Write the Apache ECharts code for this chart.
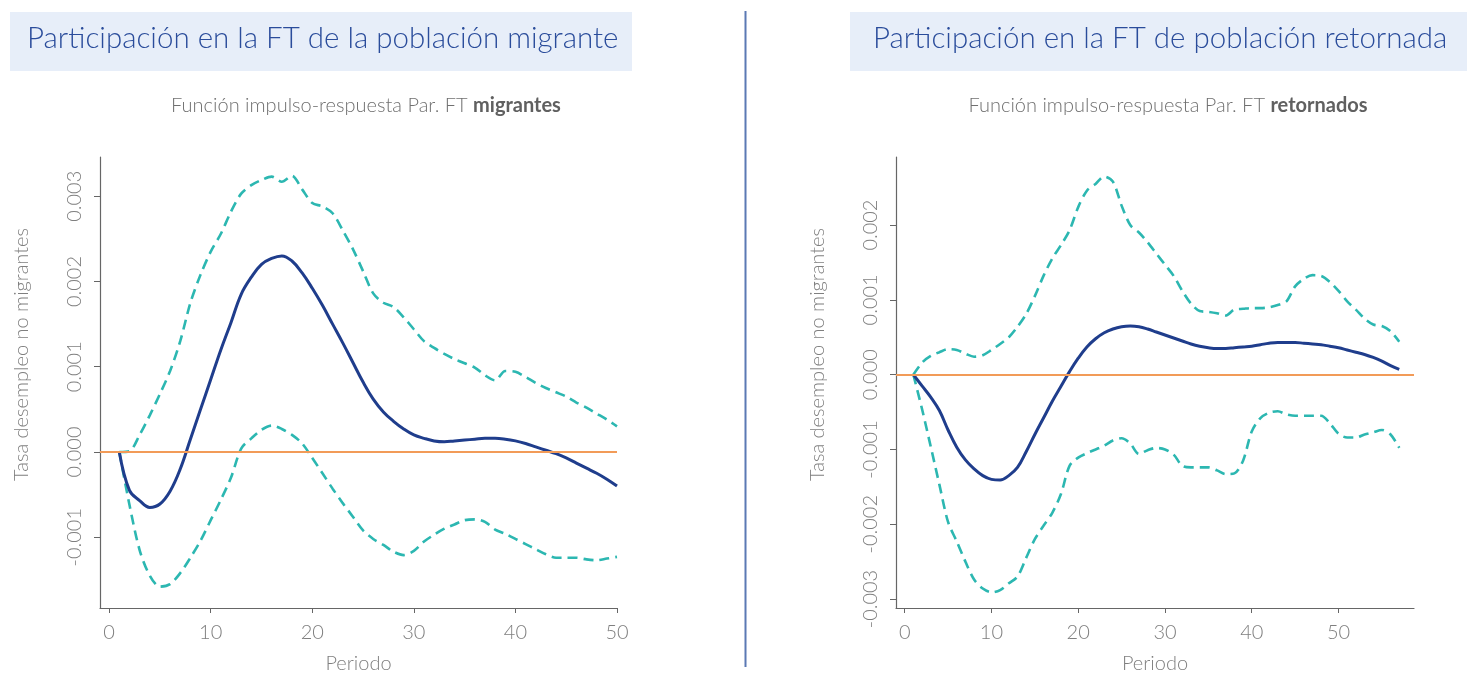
<!DOCTYPE html>
<html>
<head>
<meta charset="utf-8">
<style>
  html, body { margin: 0; padding: 0; background: #fff; }
  #chart { width: 1467px; height: 675px; }
</style>
<script src="https://cdn.jsdelivr.net/npm/echarts@6/dist/echarts.min.js"></script>
</head>
<body>
<div id="chart"></div>
<script>
// periodos (eje x)
const periodosMig = [1,2,3,4,5,6,7,8,9,10,11,12,13,14,15,16,17,18,19,20,21,22,23,24,25,26,27,28,29,30,31,32,33,34,35,36,37,38,39,40,41,42,43,44,45,46,47,48,49,50];
const periodosRet = [1,2,3,4,5,6,7,8,9,10,11,12,13,14,15,16,17,18,19,20,21,22,23,24,25,26,27,28,29,30,31,32,33,34,35,36,37,38,39,40,41,42,43,44,45,46,47,48,49,50,51,52,53,54,55,56,57];

// respuesta de migrantes
const migCentral = [0, -0.00045, -0.00057, -0.00065, -0.00061, -0.00046, -0.0002, 0.00015, 0.0005, 0.00085,
  0.0012, 0.00152, 0.00185, 0.00205, 0.0022, 0.00227, 0.0023, 0.00224, 0.0021, 0.00192,
  0.00172, 0.0015, 0.00128, 0.00105, 0.00082, 0.00062, 0.00047, 0.00036, 0.00027, 0.0002,
  0.00016, 0.00013, 0.00012, 0.00013, 0.00014, 0.00015, 0.00016, 0.00016, 0.00015, 0.00013,
  0.0001, 0.00006, 0.00002, -0.00002, -0.00007, -0.00013, -0.00019, -0.00025, -0.00032, -0.0004];
const migSuperior = [0, 0.00001, 0.0002, 0.00043, 0.00068, 0.00095, 0.0013, 0.00175, 0.00208, 0.00235,
  0.00256, 0.00282, 0.00303, 0.00313, 0.00319, 0.00323, 0.00317, 0.00324, 0.00308, 0.00292,
  0.00288, 0.0028, 0.0026, 0.00238, 0.00212, 0.00186, 0.00175, 0.0017, 0.00158, 0.00144,
  0.0013, 0.00122, 0.00115, 0.00109, 0.00104, 0.00099, 0.0009, 0.00084, 0.00095, 0.00094,
  0.00088, 0.00081, 0.00075, 0.0007, 0.00065, 0.00058, 0.00052, 0.00045, 0.00038, 0.0003];
const migInferior = [0, -0.00062, -0.00115, -0.00145, -0.00158, -0.00155, -0.00142, -0.00124, -0.00104, -0.0008,
  -0.00056, -0.0003, 0.00004, 0.00016, 0.00026, 0.00031, 0.00027, 0.0002, 0.0001, -0.00007,
  -0.00025, -0.00043, -0.0006, -0.00076, -0.00092, -0.00102, -0.00109, -0.00117, -0.00121, -0.00116,
  -0.00105, -0.00097, -0.0009, -0.00085, -0.0008, -0.00079, -0.00082, -0.00091, -0.00096, -0.00102,
  -0.00108, -0.00114, -0.0012, -0.00124, -0.00124, -0.00124, -0.00126, -0.00127, -0.00125, -0.00123];

// respuesta de retornados
const retCentral = [0, -0.00015, -0.0003, -0.00048, -0.00074, -0.00097, -0.00114, -0.00126, -0.00135, -0.0014,
  -0.00141, -0.00135, -0.00124, -0.00103, -0.0008, -0.00058, -0.00036, -0.00016, 0.00004, 0.00022,
  0.00037, 0.00048, 0.00056, 0.00061, 0.00064, 0.00065, 0.00064, 0.00061, 0.00057, 0.00053,
  0.00049, 0.00045, 0.00041, 0.00038, 0.00036, 0.00035, 0.00035, 0.00036, 0.00037, 0.00038,
  0.0004, 0.00042, 0.00043, 0.00043, 0.00043, 0.00042, 0.00041, 0.0004, 0.00038, 0.00036,
  0.00033, 0.0003, 0.00027, 0.00023, 0.00018, 0.00012, 0.00007];
const retSuperior = [0, 0.00016, 0.00025, 0.0003, 0.00034, 0.00033, 0.00028, 0.00024, 0.00026, 0.00033,
  0.00041, 0.0005, 0.00064, 0.00081, 0.00105, 0.00132, 0.00155, 0.00173, 0.00193, 0.00224,
  0.00246, 0.00255, 0.00265, 0.00258, 0.00226, 0.002, 0.0019, 0.00177, 0.00162, 0.00147,
  0.00132, 0.00112, 0.00095, 0.00085, 0.00084, 0.00082, 0.00079, 0.00087, 0.00088, 0.00089,
  0.00089, 0.0009, 0.00093, 0.00098, 0.00118, 0.00128, 0.00133, 0.00132, 0.00124, 0.00112,
  0.00098, 0.00087, 0.00075, 0.00067, 0.00065, 0.00058, 0.00044];
const retInferior = [0, -0.00046, -0.00096, -0.00147, -0.00197, -0.00223, -0.0025, -0.00274, -0.00286, -0.00291,
  -0.00288, -0.00279, -0.0027, -0.00245, -0.0022, -0.00202, -0.00185, -0.0016, -0.00122, -0.00111,
  -0.00105, -0.001, -0.00095, -0.00088, -0.00085, -0.00092, -0.00106, -0.00101, -0.00098, -0.001,
  -0.00107, -0.00122, -0.00124, -0.00124, -0.00124, -0.00128, -0.00133, -0.00132, -0.00115, -0.00076,
  -0.00058, -0.00051, -0.00049, -0.00053, -0.00055, -0.00055, -0.00055, -0.00055, -0.00065, -0.00079,
  -0.00084, -0.00084, -0.0008, -0.00077, -0.00074, -0.0008, -0.00098];

const xTicksMig = [0, 10, 20, 30, 40, 50];
const xTicksRet = [0, 10, 20, 30, 40, 50];
const yTicksMig = [-0.001, 0, 0.001, 0.002, 0.003];
const yTicksRet = [-0.003, -0.002, -0.001, 0, 0.001, 0.002];

const FONT = "Lato, 'Open Sans', sans-serif";
const AXIS_COLOR = "#666";
const LABEL_COLOR = "#7f7f7f";

function pares(xs, ys) {
  return xs.map((x, i) => [x, ys[i]]);
}

function ejeX(idx, min, max, ticks) {
  return {
    type: "value",
    gridIndex: idx,
    min: min,
    max: max,
    name: "Periodo",
    nameLocation: "middle",
    nameGap: 46,
    nameTextStyle: { color: LABEL_COLOR, fontSize: 20, fontFamily: FONT, fontWeight: 300 },
    splitLine: { show: false },
    axisLine: { show: true, onZero: false, lineStyle: { color: AXIS_COLOR, width: 1.2 } },
    axisTick: { show: true, length: 5, customValues: ticks, lineStyle: { color: AXIS_COLOR } },
    axisLabel: { customValues: ticks, color: LABEL_COLOR, fontSize: 20, fontFamily: FONT, fontWeight: 300, margin: 15 },
  };
}

function ejeY(idx, min, max, ticks) {
  return {
    type: "value",
    gridIndex: idx,
    min: min,
    max: max,
    name: "Tasa desempleo no migrantes",
    nameLocation: "middle",
    nameGap: 68,
    nameTextStyle: { color: LABEL_COLOR, fontSize: 20, fontFamily: FONT, fontWeight: 300, padding: [0, 0, 0, 56] },
    splitLine: { show: false },
    axisLine: { show: true, onZero: false, lineStyle: { color: AXIS_COLOR, width: 1.2 } },
    axisTick: { show: true, length: 6, customValues: ticks, lineStyle: { color: AXIS_COLOR } },
    axisLabel: {
      customValues: ticks,
      rotate: 90,
      color: LABEL_COLOR,
      fontSize: 20,
      fontFamily: FONT,
      fontWeight: 300,
      margin: 15,
      formatter: (v) => v.toFixed(3),
    },
  };
}

function serie(idx, datos, tipo) {
  const base = {
    type: "line",
    xAxisIndex: idx,
    yAxisIndex: idx,
    data: datos,
    symbol: "none",
    silent: true,
    animation: false,
  };
  if (tipo === "central") {
    base.smooth = 0.4;
    base.lineStyle = { color: "#1f3d8c", width: 3 };
    base.z = 4;
  } else {
    base.smooth = 0.3;
    base.lineStyle = { color: "#2cb7b1", width: 2.6, type: [10, 6] };
    base.z = 3;
  }
  return base;
}

function ceroLinea(idx) {
  return {
    type: "line",
    xAxisIndex: idx,
    yAxisIndex: idx,
    data: [],
    markLine: {
      silent: true,
      symbol: "none",
      label: { show: false },
      lineStyle: { color: "#f29b58", width: 1.8, type: "solid" },
      data: [{ yAxis: 0 }],
      animation: false,
    },
    z: 2,
  };
}

const chart = echarts.init(document.getElementById("chart"), null, { renderer: "canvas" });

chart.setOption({
  backgroundColor: "#fff",
  animation: false,
  graphic: [
    { type: "rect", shape: { x: 10, y: 12, width: 622, height: 59 }, style: { fill: "#e7eef9" }, z: -1 },
    { type: "rect", shape: { x: 850, y: 12, width: 617, height: 59 }, style: { fill: "#e7eef9" }, z: -1 },
    { type: "line", shape: { x1: 745.5, y1: 11, x2: 745.5, y2: 667 }, style: { stroke: "#5b79b4", lineWidth: 2 } },
  ],
  title: [
    {
      text: "Participación en la FT de la población migrante",
      left: 27, top: 23, padding: 0,
      textStyle: { color: "#2a4c9b", fontSize: 29.5, fontWeight: 300, fontFamily: FONT },
    },
    {
      text: "Participación en la FT de población retornada",
      left: 873, top: 23, padding: 0,
      textStyle: { color: "#2a4c9b", fontSize: 29.5, fontWeight: 300, fontFamily: FONT },
    },
    {
      text: "{n|Función impulso-respuesta Par. FT }{b|migrantes}",
      left: 366, top: 96, textAlign: "center", padding: 0,
      textStyle: {
        rich: {
          n: { color: "#707070", fontSize: 20, fontFamily: FONT, fontWeight: 300 },
          b: { color: "#606060", fontSize: 20, fontFamily: FONT, fontWeight: "bold" },
        },
      },
    },
    {
      text: "{n|Función impulso-respuesta Par. FT }{b|retornados}",
      left: 1168, top: 96, textAlign: "center", padding: 0,
      textStyle: {
        rich: {
          n: { color: "#707070", fontSize: 20, fontFamily: FONT, fontWeight: 300 },
          b: { color: "#606060", fontSize: 20, fontFamily: FONT, fontWeight: "bold" },
        },
      },
    },
  ],
  grid: [
    { left: 100, top: 157, width: 517, height: 451, containLabel: false, outerBoundsMode: "none" },
    { left: 896, top: 157, width: 518, height: 451, containLabel: false, outerBoundsMode: "none" },
  ],
  xAxis: [ejeX(0, -0.9, 50, xTicksMig), ejeX(1, -1, 58.7, xTicksRet)],
  yAxis: [ejeY(0, -0.00183, 0.00346, yTicksMig), ejeY(1, -0.00312, 0.00291, yTicksRet)],
  series: [
    ceroLinea(0),
    serie(0, pares(periodosMig, migSuperior), "banda"),
    serie(0, pares(periodosMig, migInferior), "banda"),
    serie(0, pares(periodosMig, migCentral), "central"),
    ceroLinea(1),
    serie(1, pares(periodosRet, retSuperior), "banda"),
    serie(1, pares(periodosRet, retInferior), "banda"),
    serie(1, pares(periodosRet, retCentral), "central"),
  ],
});
</script>
</body>
</html>
